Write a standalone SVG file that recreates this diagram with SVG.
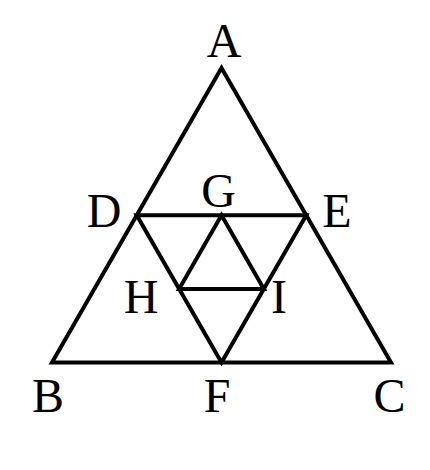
<svg xmlns="http://www.w3.org/2000/svg" width="430" height="470" viewBox="0 0 430 470">
<style>
.l{stroke:#000;stroke-width:4;fill:none;stroke-linejoin:miter;stroke-linecap:butt}
text{font-family:"Liberation Serif","Times New Roman",serif;font-size:48px;fill:#000;text-anchor:middle}
</style>
<rect width="430" height="470" fill="#fff"/>
<g id="connectors">
<polygon class="l" points="221.5,68 52,362.5 391,362.5"/>
<polygon class="l" points="136.75,215.25 306.25,215.25 221.5,362.5"/>
<polygon class="l" points="221.5,215.25 179.1,288.9 263.9,288.9"/>
</g>
<g id="A"><text x="224" y="57">A</text></g>
<g id="B"><text x="48" y="412">B</text></g>
<g id="C"><text x="389.5" y="412">C</text></g>
<g id="D"><text x="104" y="227">D</text></g>
<g id="E"><text x="337" y="227">E</text></g>
<g id="F"><text x="217" y="412">F</text></g>
<g id="G"><text x="218.5" y="207">G</text></g>
<g id="H"><text x="141" y="313">H</text></g>
<g id="I"><text x="279" y="313">I</text></g>
</svg>
